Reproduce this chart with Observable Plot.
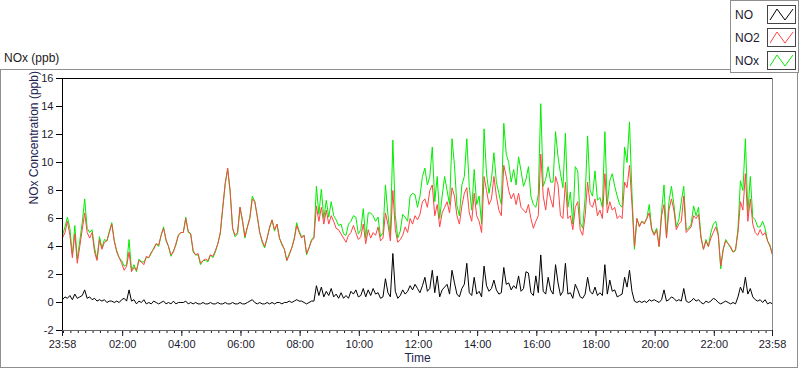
<!DOCTYPE html>
<html><head><meta charset="utf-8">
<script src="https://cdn.jsdelivr.net/npm/d3@7"></script>
<script src="https://cdn.jsdelivr.net/npm/@observablehq/plot@0.6"></script>
<style>
body{margin:0;background:#fff;font-family:"Liberation Sans",Arial,sans-serif;}
#wrap{position:relative;width:800px;height:369px;overflow:hidden;background:#fff;}
#frame{position:absolute;left:0;top:69px;width:796px;height:297px;border:1px solid #8e8e8e;}
#title{position:absolute;left:4px;top:50px;font-size:12px;line-height:16px;color:#1a1a1a;}
#legend{position:absolute;left:730px;top:0;width:67px;height:71px;border:1px solid #8e8e8e;background:#fff;}
.li{position:absolute;left:4px;font-size:12px;line-height:16px;color:#1a1a2e;}
.sw{position:absolute;left:36px;width:29px;height:19px;}
#chart{position:absolute;left:0;top:0;}
</style></head>
<body><div id="wrap"><div id="frame"></div><div id="title">NOx (ppb)</div><div id="chart"></div><div id="legend"></div></div>
<script>
// 5-minute samples starting at 23:58
const stepMinutes = 5;
const no2 = [
4.6,5.0,5.8,4.8,3.2,4.9,2.8,4.0,5.2,6.4,5.0,4.6,5.0,3.6,3.0,4.5,3.8,4.3,4.4,5.0,5.6,4.4,3.6,3.2,2.8,2.3,2.6,3.6,2.2,2.5,2.3,3.0,2.9,2.7,3.3,3.2,3.6,3.8,4.2,4.1,4.8,5.3,4.5,4.0,3.4,3.6,4.2,4.8,5.0,
5.0,6.0,5.1,4.9,3.7,3.4,3.5,2.8,3.0,3.1,3.0,3.4,3.3,3.7,4.2,5.0,6.8,8.5,9.6,8.0,5.3,4.8,5.0,6.8,5.9,4.7,5.4,6.0,7.4,7.2,6.2,5.0,4.4,4.0,4.6,5.4,5.9,5.2,5.6,4.6,4.2,3.8,3.0,3.4,3.9,4.5,5.5,5.0,
4.6,4.8,3.5,3.9,4.4,4.6,6.9,5.8,6.8,5.6,6.6,5.6,6.2,5.8,5.3,5.2,4.9,4.6,4.3,4.8,5.0,5.5,5.0,4.5,4.7,5.6,4.2,5.2,4.6,5.0,4.8,5.4,4.4,4.6,6.4,5.6,4.4,8.0,5.2,4.3,4.5,4.8,5.4,5.0,6.0,5.6,6.2,5.9,
6.3,7.2,7.4,6.8,8.0,8.4,6.2,7.0,5.4,6.4,6.8,7.2,6.4,8.2,7.6,6.2,5.6,6.9,7.8,8.2,6.4,5.8,7.8,6.2,5.8,5.0,9.0,8.0,7.0,7.4,9.0,7.6,6.6,6.2,9.8,9.0,8.0,7.4,7.8,7.0,7.8,6.8,6.6,6.4,7.0,6.0,5.3,5.8,
6.2,10.6,7.6,6.6,8.2,7.4,6.8,9.0,8.4,6.2,6.0,8.6,6.0,6.2,5.2,6.8,7.2,5.2,4.8,6.2,8.6,7.0,6.8,7.4,6.2,6.6,6.0,9.2,6.4,7.2,6.6,6.8,6.0,6.2,6.0,8.6,8.2,9.8,7.0,4.0,6.0,5.4,5.8,5.6,6.0,6.4,5.2,4.8,
5.2,4.0,6.2,7.0,4.6,6.6,7.4,6.6,5.2,5.6,5.8,7.6,5.0,5.2,5.4,6.2,6.0,6.3,4.6,3.8,4.4,4.0,4.6,5.0,5.4,4.8,2.6,3.8,4.4,4.2,4.0,3.6,3.8,5.0,7.2,6.6,9.2,5.8,7.4,5.6,5.0,4.8,5.2,4.8,5.0,4.4,4.0,3.4
];
const no = [
0.2,0.4,0.3,0.5,0.2,0.6,0.3,0.4,0.5,0.9,0.3,0.4,0.2,0.3,0.1,0.2,0.1,0.2,0.0,0.1,0.1,0.0,0.1,0.0,0.2,0.3,0.1,0.9,0.1,0.2,-0.1,0.1,0.0,0.2,-0.1,0.0,-0.1,0.1,0.0,-0.1,0.0,0.1,-0.1,0.0,-0.1,0.1,-0.1,0.0,0.0,
0.0,0.1,-0.1,0.0,-0.1,0.0,-0.1,-0.1,0.0,-0.1,-0.1,0.0,-0.1,-0.1,0.0,-0.1,-0.1,0.0,-0.1,-0.1,0.0,-0.1,-0.1,0.0,-0.1,-0.1,0.0,0.1,0.2,0.0,-0.1,0.0,-0.1,-0.1,0.0,-0.1,0.0,-0.1,0.0,0.0,-0.1,0.0,0.0,0.1,0.0,0.1,0.2,0.1,
0.1,0.0,-0.1,0.0,0.1,0.1,1.2,0.5,1.1,0.4,0.8,0.5,1.0,0.4,0.6,0.3,0.7,0.3,0.5,0.3,0.8,0.6,0.9,0.4,0.5,1.0,0.4,0.9,0.5,1.0,0.6,0.7,0.3,0.4,1.7,0.7,0.4,3.5,0.8,0.3,0.5,0.9,0.6,0.8,1.2,0.9,1.3,1.0,
0.7,1.2,1.8,0.8,1.0,2.3,0.7,1.9,0.4,0.9,1.1,1.3,0.6,2.3,1.4,0.6,0.4,1.0,1.3,2.8,0.7,0.5,1.8,0.6,0.8,0.4,2.6,1.2,0.8,1.0,1.6,0.9,0.6,0.7,2.5,1.3,1.4,0.9,1.2,1.0,1.9,0.8,1.0,2.2,2.1,0.7,0.5,1.9,
0.7,3.4,0.8,0.6,1.8,0.9,0.6,2.7,1.4,0.5,0.8,2.8,0.6,0.7,0.3,1.3,0.9,0.4,0.3,0.6,1.8,0.8,0.6,1.1,0.5,0.7,0.5,2.7,0.6,1.6,0.8,0.9,0.4,0.5,0.6,1.8,1.1,2.3,0.8,0.1,0.0,0.1,0.0,0.1,0.0,0.2,0.1,0.2,
0.1,0.0,0.2,0.9,0.1,0.2,0.4,0.3,0.1,0.2,0.1,1.0,0.1,0.0,0.1,0.3,0.1,0.2,0.0,-0.1,0.1,0.0,0.1,0.3,0.2,0.0,-0.1,0.0,0.1,0.0,-0.1,0.0,-0.1,0.4,1.1,0.7,1.8,0.6,1.0,0.4,0.2,0.1,0.2,0.0,0.2,-0.1,0.0,-0.1
];
const nox = [
4.8,5.4,6.1,5.3,3.4,5.5,3.1,4.4,5.7,7.4,5.3,5.0,5.2,3.9,3.1,4.7,3.9,4.5,4.4,5.1,5.7,4.4,3.7,3.2,3.0,2.6,2.7,4.5,2.3,2.7,2.2,3.1,2.9,2.9,3.2,3.2,3.5,3.9,4.2,4.0,4.8,5.4,4.4,4.0,3.3,3.7,4.1,4.8,5.0,
5.0,6.1,5.0,4.9,3.6,3.4,3.4,2.7,3.0,3.0,2.9,3.4,3.2,3.6,4.2,4.9,6.7,8.5,9.5,7.9,5.3,4.7,4.9,6.8,5.8,4.6,5.4,6.1,7.6,7.2,6.1,5.0,4.3,3.9,4.6,5.3,5.9,5.1,5.6,4.6,4.1,3.8,3.0,3.5,3.9,4.6,5.7,5.1,
4.7,4.8,3.4,3.9,4.5,4.7,8.3,6.3,8.1,6.0,7.3,6.1,7.2,6.2,5.9,5.5,5.6,4.9,4.8,5.6,5.8,6.2,6.1,4.9,5.2,6.7,4.6,6.4,6.4,6.2,5.8,6.1,4.7,5.0,8.4,6.3,4.8,11.6,6.2,4.6,5.1,6.3,6.1,5.8,7.6,7.8,7.7,6.8,
7.6,9.0,9.6,8.4,9.0,11.1,7.2,9.0,6.0,7.6,9.0,8.0,7.0,11.7,9.8,6.9,6.2,8.4,9.0,11.7,8.3,6.6,9.5,7.0,7.6,5.6,12.4,9.2,7.8,8.8,10.7,8.6,7.8,7.0,12.8,10.6,10.0,8.6,9.5,8.4,10.4,9.4,8.3,8.8,9.7,7.6,7.0,6.8,
7.7,14.2,8.3,8.8,9.7,8.6,8.6,12.2,10.4,9.2,8.2,12.1,6.8,7.9,5.6,9.7,9.4,5.7,5.3,7.5,11.9,8.0,7.6,9.4,7.3,7.5,6.8,12.2,7.0,8.7,9.2,8.3,7.6,7.0,6.8,11.1,10.0,12.9,7.8,3.8,6.0,5.5,5.8,5.7,6.0,7.0,5.3,4.9,
5.3,4.0,6.5,8.4,4.7,7.2,8.3,7.0,5.4,5.9,7.2,8.3,5.2,5.3,5.6,6.9,6.2,6.8,4.7,3.8,4.5,4.0,5.0,5.6,5.8,4.9,2.4,3.8,4.5,4.2,3.9,3.6,3.7,5.3,8.7,8.0,11.7,6.4,9.0,6.1,5.9,5.4,5.4,5.8,5.3,4.4,4.1,3.4
];
const xTickLabels = ["23:58","02:00","04:00","06:00","08:00","10:00","12:00","14:00","16:00","18:00","20:00","22:00","23:58"];
const xTickMinutes = [0,122,242,362,482,602,722,842,962,1082,1202,1322,1440];
const yTicks = [-2,0,2,4,6,8,10,12,14,16];
const seriesNames = ["NO","NO2","NOx"];
const seriesColors = ["#000000","#ff4444","#00ee00"];

const n = Math.min(no2.length, no.length, nox.length);
const data = d3.range(n).map(i => ({t: i * stepMinutes, no: no[i], no2: no2[i], nox: nox[i]}));
const minor = d3.range(2, 1440, 15);
const labelMap = new Map(xTickMinutes.map((m, i) => [m, xTickLabels[i]]));
const font = '"Liberation Sans", Arial, sans-serif';

const chart = Plot.plot({
  width: 800, height: 369,
  marginLeft: 62, marginRight: 28, marginTop: 78, marginBottom: 39,
  style: {background: "transparent", fontFamily: font, fontSize: "11px", color: "#1a1a2e", overflow: "visible"},
  x: {domain: [0, 1440], axis: null},
  y: {domain: [-2, 16], axis: null},
  marks: [
    Plot.line(data, {x: "t", y: "nox", stroke: seriesColors[2], strokeWidth: 1}),
    Plot.line(data, {x: "t", y: "no2", stroke: seriesColors[1], strokeWidth: 1}),
    Plot.line(data, {x: "t", y: "no", stroke: seriesColors[0], strokeWidth: 1}),
    Plot.axisY({ticks: yTicks, tickSize: 6, tickPadding: 3, label: null, tickFormat: d => String(d), stroke: "#000"}),
    Plot.axisX({ticks: minor, tickSize: 3, tickFormat: () => "", label: null}),
    Plot.axisX({ticks: xTickMinutes, tickSize: 6, tickPadding: 4, tickFormat: d => labelMap.get(d), label: null}),
    Plot.ruleY([16], {stroke: "#000"}),
    Plot.ruleX([0], {stroke: "#000"}),
    Plot.ruleY([-2], {stroke: "#666"}),
    Plot.ruleX([1440], {stroke: "#8a8a8a"}),
    Plot.text(["NOx Concentration (ppb)"], {text: d => d, frameAnchor: "left", dx: -28, rotate: -90, fontSize: 12, fill: "#22224e"}),
    Plot.text(["Time"], {text: d => d, frameAnchor: "bottom", dy: 31, fontSize: 12, fill: "#22224e"})
  ]
});
document.getElementById("chart").appendChild(chart);

// legend
const legend = document.getElementById("legend");
seriesNames.forEach((name, i) => {
  const top = 4 + i * 23;
  const t = document.createElement("div");
  t.className = "li"; t.style.top = (top + 2) + "px"; t.textContent = name;
  legend.appendChild(t);
  const s = document.createElementNS("http://www.w3.org/2000/svg", "svg");
  s.setAttribute("class", "sw"); s.style.top = top + "px";
  s.setAttribute("width", 29); s.setAttribute("height", 19);
  s.innerHTML = `<rect x="0.5" y="0.5" width="28" height="18" fill="#fff" stroke="#444"/>` +
    `<polyline points="3,15 10,4 18,15 26,4" fill="none" stroke="${seriesColors[i]}" stroke-width="1"/>`;
  legend.appendChild(s);
});
</script></body></html>
